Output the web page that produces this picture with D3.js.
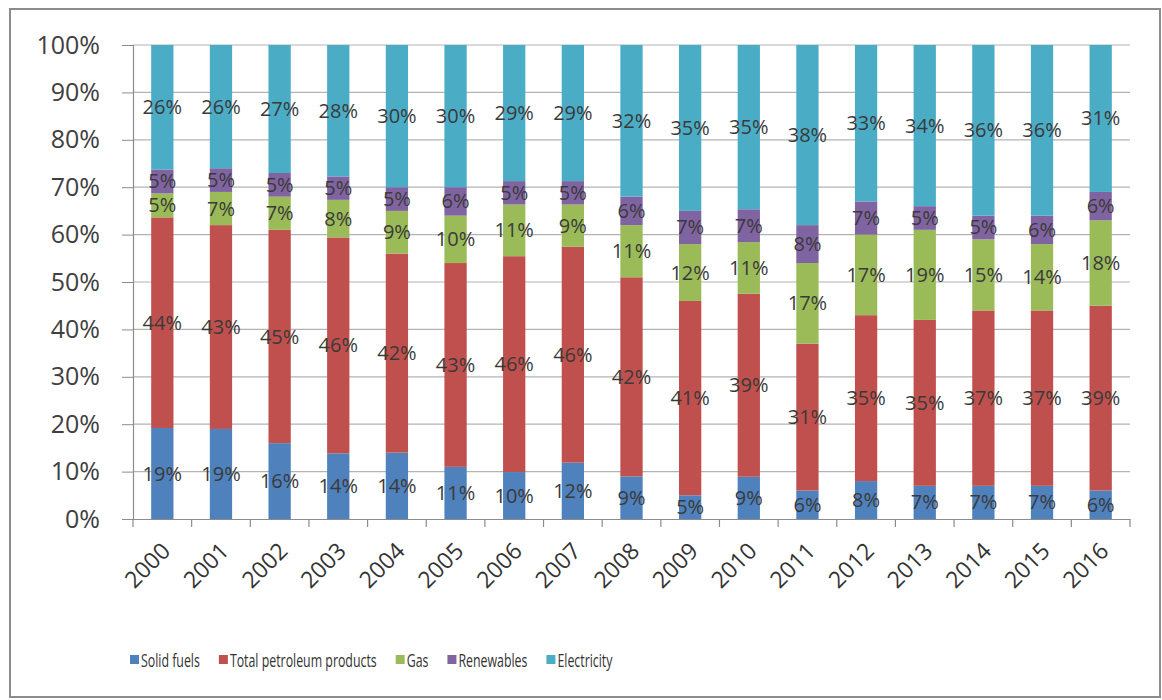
<!DOCTYPE html>
<html>
<head>
<meta charset="utf-8">
<script src="https://cdn.jsdelivr.net/npm/d3@7"></script>
<style>
  body { margin: 0; background: #fff; }
  text { font-family: "Open Sans", sans-serif; }
</style>
</head>
<body>
<div id="canvas"></div>
<script>
const years = ['2000','2001','2002','2003','2004','2005','2006','2007','2008','2009','2010','2011','2012','2013','2014','2015','2016']
const solidFuels = [19,19,16,14,14,11,10,12,9,5,9,6,8,7,7,7,6]
const petroleum  = [44,43,45,46,42,43,46,46,42,41,39,31,35,35,37,37,39]
const gas        = [5,7,7,8,9,10,11,9,11,12,11,17,17,19,15,14,18]
const renewables = [5,5,5,5,5,6,5,5,6,7,7,8,7,5,5,6,6]
const electricity= [26,26,27,28,30,30,29,29,32,35,35,38,33,34,36,36,31]
const seriesNames = ['Solid fuels','Total petroleum products','Gas','Renewables','Electricity']
const yTicks = [0,0.1,0.2,0.3,0.4,0.5,0.6,0.7,0.8,0.9,1]

const colors = ['#4F81BD','#C0504D','#9BBB59','#8064A2','#4BACC6']
const seriesVals = [solidFuels, petroleum, gas, renewables, electricity]

const data = years.map((yr,i)=>{
  let row = {year: yr}
  seriesNames.forEach((n,k)=> row[n] = seriesVals[k][i])
  return row
})

const width = 1162, height = 700
const margin = {top:45, left:133, right:32, bottom:181}

const svg = d3.select('#canvas').append('svg')
  .attr('width', width).attr('height', height)

// outer frame
svg.append('rect')
  .attr('x',10).attr('y',9).attr('width',1150).attr('height',688)
  .attr('fill','#fff').attr('stroke','#8c8c8c').attr('stroke-width',2)

let x = d3.scaleBand().domain(years)
  .range([margin.left, width-margin.right])
  .paddingInner(0.62).paddingOuter(0.31)

let y = d3.scaleLinear().domain([0,1])
  .range([height-margin.bottom, margin.top])

// gridlines
svg.append('g').selectAll('line').data(yTicks.slice(1)).enter()
  .append('line')
  .attr('x1', margin.left).attr('x2', width-margin.right)
  .attr('y1', d=>y(d)).attr('y2', d=>y(d))
  .attr('stroke','#b3b3b3').attr('stroke-width',1.2)

const stack = d3.stack().keys(seriesNames).offset(d3.stackOffsetExpand)
const layers = stack(data)

let lg = svg.append('g').selectAll('g').data(layers).enter()
  .append('g').attr('fill', (d,i)=>colors[i])

lg.selectAll('rect').data(d=>d).enter()
  .append('rect')
  .attr('x', d=>x(d.data.year))
  .attr('width', x.bandwidth())
  .attr('y', d=>y(d[1]))
  .attr('height', d=>y(d[0])-y(d[1]))

// data labels
let labG = svg.append('g')
layers.forEach((layer,k)=>{
  labG.selectAll('.lab'+k).data(layer).enter()
    .append('text')
    .attr('x', d=>x(d.data.year)+x.bandwidth()/2)
    .attr('y', d=>(y(d[0])+y(d[1]))/2)
    .attr('dy','0.35em')
    .attr('text-anchor','middle')
    .attr('font-size',20)
    .attr('fill','#3a3a3a')
    .text(d=>d.data[seriesNames[k]]+'%')
})

// y axis
let yAxisCall = d3.axisLeft(y).tickValues(yTicks).tickFormat(d3.format('.0%')).tickSize(11).tickPadding(22)
let yAxis = svg.append('g').attr('transform', `translate(${margin.left},0)`).call(yAxisCall)
yAxis.select('.domain').attr('stroke','#8c8c8c').attr('stroke-width',1.2)
yAxis.selectAll('.tick line').attr('stroke','#8c8c8c')
yAxis.selectAll('text').attr('font-size',25).attr('fill','#404040')

// x axis
let xAxisCall = d3.axisBottom(x).tickSize(0).tickPadding(0)
let xAxis = svg.append('g').attr('transform', `translate(0,${height-margin.bottom})`).call(xAxisCall)
xAxis.select('.domain').attr('stroke','#8c8c8c').attr('stroke-width',1.2)
// boundary ticks between categories
const step = x.step()
xAxis.selectAll('.bound').data(d3.range(years.length+1)).enter()
  .append('line')
  .attr('x1', i=>margin.left+i*step).attr('x2', i=>margin.left+i*step)
  .attr('y1',0).attr('y2',8)
  .attr('stroke','#8c8c8c').attr('stroke-width',1.2)
xAxis.selectAll('.tick text')
  .attr('font-size',23).attr('fill','#333')
  .attr('text-anchor','end')
  .attr('transform','translate(-2,22) rotate(-45)')
  .attr('dy','0.7em')

// legend (narrow font look: squeeze measured text)
let leg = svg.append('g')
let lx = 130
seriesNames.forEach((n,i)=>{
  leg.append('rect').attr('x',lx).attr('y',655).attr('width',9).attr('height',9)
    .attr('fill',colors[i])
  let t = leg.append('text').attr('x',lx+11).attr('y',660).attr('dy','0.35em')
    .attr('font-size',19).attr('fill','#333').text(n)
  let w = t.node().getComputedTextLength()*0.65
  t.attr('textLength',w).attr('lengthAdjust','spacingAndGlyphs')
  lx += 11 + w + 19
})
</script>
</body>
</html>
